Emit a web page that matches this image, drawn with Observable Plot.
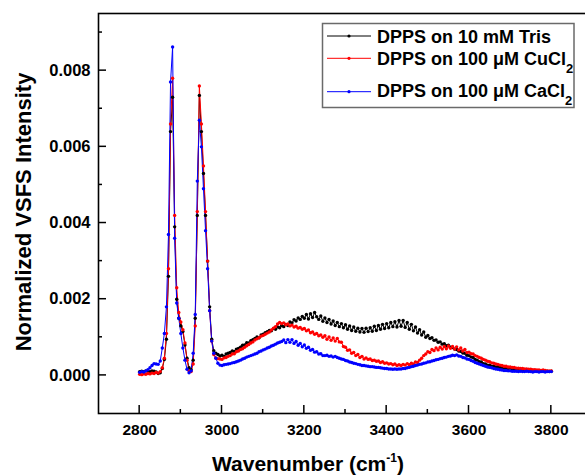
<!DOCTYPE html>
<html><head><meta charset="utf-8">
<script src="https://cdn.jsdelivr.net/npm/d3@7"></script>
<script src="https://cdn.jsdelivr.net/npm/@observablehq/plot@0.6"></script>
<style>
html,body{margin:0;padding:0;background:#fff;overflow:hidden;}
#chart{width:585px;height:475px;overflow:hidden;position:relative;}
#chart svg{max-width:none !important;width:592px !important;height:475px !important;display:block;}
#chart svg text{font-weight:bold;}
</style></head><body><div id="chart"></div>
<script>
// Wavenumber grid (cm^-1)
const wavenumber = [
2800,2805,2810,2815,2820,2825,2830,2835,2840,2845,
2850,2855,2860,2865,2870,2875,2880,2885,2890,2895,
2900,2905,2910,2915,2920,2925,2930,2935,2940,2945,
2950,2955,2960,2965,2970,2975,2980,2985,2990,2995,
3000,3005,3010,3015,3020,3025,3030,3035,3040,3045,
3050,3055,3060,3065,3070,3075,3080,3085,3090,3095,
3100,3105,3110,3115,3120,3125,3130,3135,3140,3145,
3150,3155,3160,3165,3170,3175,3180,3185,3190,3195,
3200,3205,3210,3215,3220,3225,3230,3235,3240,3245,
3250,3255,3260,3265,3270,3275,3280,3285,3290,3295,
3300,3305,3310,3315,3320,3325,3330,3335,3340,3345,
3350,3355,3360,3365,3370,3375,3380,3385,3390,3395,
3400,3405,3410,3415,3420,3425,3430,3435,3440,3445,
3450,3455,3460,3465,3470,3475,3480,3485,3490,3495,
3500,3505,3510,3515,3520,3525,3530,3535,3540,3545,
3550,3555,3560,3565,3570,3575,3580,3585,3590,3595,
3600,3605,3610,3615,3620,3625,3630,3635,3640,3645,
3650,3655,3660,3665,3670,3675,3680,3685,3690,3695,
3700,3705,3710,3715,3720,3725,3730,3735,3740,3745,
3750,3755,3760,3765,3770,3775,3780,3785,3790,3795,
3800];

// DPPS on 10 mM Tris (black)
const trisValues = [
0.00010,0.00011,0.00010,0.00012,0.00011,0.00010,0.00012,0.00011,0.00009,0.00005,
0.00007,0.00018,0.00042,0.00095,0.00260,0.00640,0.00730,0.00390,0.00200,0.00150,
0.00130,0.00115,0.00080,0.00045,0.00020,0.00015,0.00040,0.00150,0.00420,0.00735,
0.00640,0.00530,0.00420,0.00300,0.00180,0.00095,0.00065,0.00058,0.00055,0.00051,
0.00053,0.00050,0.00056,0.00058,0.00060,0.00064,0.00063,0.00069,0.00071,0.00074,
0.00079,0.00080,0.00086,0.00085,0.00091,0.00094,0.00097,0.00101,0.00099,0.00106,
0.00108,0.00112,0.00115,0.00118,0.00117,0.00123,0.00121,0.00127,0.00125,0.00131,
0.00128,0.00134,0.00131,0.00140,0.00138,0.00146,0.00143,0.00151,0.00147,0.00155,
0.00150,0.00160,0.00148,0.00162,0.00152,0.00165,0.00154,0.00147,0.00156,0.00142,
0.00151,0.00139,0.00147,0.00135,0.00143,0.00131,0.00139,0.00128,0.00136,0.00125,
0.00133,0.00121,0.00130,0.00118,0.00127,0.00116,0.00124,0.00114,0.00123,0.00113,
0.00124,0.00115,0.00125,0.00116,0.00129,0.00118,0.00131,0.00121,0.00134,0.00123,
0.00136,0.00125,0.00139,0.00128,0.00141,0.00127,0.00144,0.00129,0.00144,0.00126,
0.00139,0.00121,0.00134,0.00117,0.00127,0.00111,0.00120,0.00106,0.00114,0.00100,
0.00105,0.00097,0.00099,0.00092,0.00093,0.00087,0.00088,0.00082,0.00083,0.00078,
0.00079,0.00074,0.00073,0.00069,0.00068,0.00064,0.00063,0.00059,0.00058,0.00053,
0.00052,0.00048,0.00047,0.00042,0.00040,0.00036,0.00035,0.00031,0.00030,0.00027,
0.00027,0.00024,0.00024,0.00022,0.00023,0.00021,0.00021,0.00019,0.00020,0.00018,
0.00019,0.00017,0.00017,0.00016,0.00017,0.00015,0.00015,0.00014,0.00015,0.00013,
0.00013,0.00012,0.00013,0.00012,0.00012,0.00011,0.00012,0.00011,0.00011,0.00010,
0.00011];

// DPPS on 100 uM CuCl2 (red)
const cuValues = [
0.00003,0.00002,0.00004,0.00003,0.00005,0.00004,0.00006,0.00005,0.00008,0.00006,
0.00010,0.00020,0.00045,0.00110,0.00280,0.00660,0.00780,0.00420,0.00230,0.00165,
0.00140,0.00120,0.00085,0.00040,0.00012,0.00010,0.00030,0.00130,0.00430,0.00760,
0.00660,0.00550,0.00430,0.00300,0.00170,0.00090,0.00055,0.00046,0.00044,0.00043,
0.00042,0.00046,0.00047,0.00050,0.00052,0.00056,0.00057,0.00062,0.00064,0.00068,
0.00070,0.00074,0.00078,0.00081,0.00085,0.00088,0.00093,0.00096,0.00099,0.00103,
0.00105,0.00108,0.00111,0.00114,0.00119,0.00124,0.00128,0.00135,0.00139,0.00136,
0.00138,0.00133,0.00135,0.00130,0.00132,0.00127,0.00129,0.00124,0.00126,0.00121,
0.00123,0.00117,0.00119,0.00112,0.00114,0.00108,0.00110,0.00104,0.00106,0.00100,
0.00104,0.00095,0.00101,0.00092,0.00098,0.00090,0.00097,0.00088,0.00087,0.00076,
0.00074,0.00066,0.00067,0.00058,0.00060,0.00052,0.00055,0.00047,0.00050,0.00043,
0.00046,0.00042,0.00043,0.00039,0.00040,0.00037,0.00038,0.00034,0.00036,0.00032,
0.00033,0.00030,0.00031,0.00028,0.00030,0.00026,0.00028,0.00026,0.00029,0.00027,
0.00031,0.00028,0.00032,0.00030,0.00035,0.00034,0.00040,0.00045,0.00052,0.00056,
0.00062,0.00060,0.00068,0.00065,0.00072,0.00067,0.00074,0.00069,0.00076,0.00070,
0.00077,0.00071,0.00076,0.00069,0.00075,0.00067,0.00072,0.00064,0.00068,0.00060,
0.00061,0.00057,0.00056,0.00052,0.00050,0.00047,0.00045,0.00042,0.00040,0.00037,
0.00036,0.00033,0.00032,0.00030,0.00029,0.00027,0.00026,0.00024,0.00024,0.00022,
0.00022,0.00021,0.00021,0.00019,0.00019,0.00018,0.00018,0.00017,0.00017,0.00016,
0.00016,0.00015,0.00015,0.00014,0.00014,0.00013,0.00014,0.00013,0.00012,0.00012,
0.00012];

// DPPS on 100 uM CaCl2 (blue)
const caValues = [
0.00008,0.00010,0.00009,0.00012,0.00015,0.00020,0.00026,0.00031,0.00030,0.00029,
0.00038,0.00072,0.00110,0.00180,0.00370,0.00770,0.00862,0.00360,0.00190,0.00150,
0.00110,0.00072,0.00040,0.00016,0.00007,0.00012,0.00058,0.00160,0.00510,0.00670,
0.00600,0.00490,0.00380,0.00280,0.00170,0.00090,0.00058,0.00045,0.00032,0.00027,
0.00026,0.00028,0.00029,0.00030,0.00031,0.00033,0.00034,0.00036,0.00038,0.00040,
0.00043,0.00045,0.00048,0.00050,0.00052,0.00054,0.00056,0.00058,0.00062,0.00064,
0.00067,0.00069,0.00072,0.00074,0.00077,0.00079,0.00082,0.00085,0.00087,0.00089,
0.00093,0.00086,0.00094,0.00087,0.00094,0.00084,0.00089,0.00079,0.00084,0.00075,
0.00080,0.00071,0.00074,0.00066,0.00068,0.00061,0.00062,0.00056,0.00057,0.00052,
0.00052,0.00053,0.00050,0.00051,0.00048,0.00050,0.00047,0.00045,0.00043,0.00042,
0.00039,0.00038,0.00035,0.00034,0.00032,0.00031,0.00029,0.00028,0.00026,0.00026,
0.00025,0.00024,0.00023,0.00023,0.00022,0.00021,0.00021,0.00020,0.00019,0.00018,
0.00018,0.00017,0.00017,0.00016,0.00017,0.00016,0.00017,0.00017,0.00018,0.00018,
0.00020,0.00021,0.00023,0.00024,0.00026,0.00027,0.00029,0.00030,0.00032,0.00033,
0.00035,0.00036,0.00038,0.00039,0.00041,0.00042,0.00044,0.00045,0.00047,0.00048,
0.00050,0.00051,0.00053,0.00052,0.00054,0.00051,0.00050,0.00047,0.00046,0.00043,
0.00042,0.00039,0.00037,0.00034,0.00032,0.00030,0.00028,0.00026,0.00024,0.00022,
0.00021,0.00020,0.00018,0.00017,0.00016,0.00015,0.00014,0.00013,0.00013,0.00012,
0.00012,0.00011,0.00011,0.00011,0.00010,0.00011,0.00010,0.00010,0.00011,0.00010,
0.00010,0.00009,0.00010,0.00010,0.00009,0.00010,0.00010,0.00009,0.00010,0.00010,
0.00010];

const seriesLabels = ["DPPS on 10 mM Tris", "DPPS on 100 \u03BCM CuCl", "DPPS on 100 \u03BCM CaCl"];
const seriesSubscripts = ["", "2", "2"];
const seriesColors = ["#000000", "#ff0000", "#0000ff"];
const seriesValues = [trisValues, cuValues, caValues];

const xMajorTicks = [2800, 3000, 3200, 3400, 3600, 3800];
const xMinorTicks = [2900, 3100, 3300, 3500, 3700];
const yMajorTicks = [0, 0.002, 0.004, 0.006, 0.008];
const yMinorTicks = [0.001, 0.003, 0.005, 0.007, 0.009];
const xDomain = [2700, 3900];
const yDomain = [-0.001, 0.0095];

const rows = [];
seriesValues.forEach((vals, s) => {
  vals.forEach((v, i) => rows.push({series: s, wn: wavenumber[i], v}));
});

const FONT = "'Liberation Sans', Arial, Helvetica, sans-serif";
const lineMarks = seriesColors.map((c, s) =>
  Plot.line(rows.filter(d => d.series === s), {x: "wn", y: "v", stroke: c, strokeWidth: 1}));
const dotMarks = seriesColors.map((c, s) =>
  Plot.dot(rows.filter(d => d.series === s), {x: "wn", y: "v", fill: c, r: 1.7, stroke: "none"}));

const plot = Plot.plot({
  width: 592, height: 475,
  marginLeft: 98, marginRight: 0, marginTop: 13, marginBottom: 62,
  style: {fontFamily: FONT, background: "#fff", color: "#000", overflow: "hidden"},
  x: {domain: xDomain},
  y: {domain: yDomain},
  marks: [
    ...lineMarks,
    ...dotMarks,
    Plot.axisX(xMajorTicks, {tickSize: 0, tickPadding: 10, tickFormat: d => String(d), fontSize: 15.5, label: null}),
    Plot.axisY(yMajorTicks, {tickSize: 0, tickPadding: 8, tickFormat: d3.format(".3f"), fontSize: 16.5, label: null}),
    Plot.frame({stroke: "#000", strokeWidth: 1.6})
  ]
});

const sx = plot.scale("x"), sy = plot.scale("y");
const svg = d3.select(plot);
const ticks = svg.append("g").attr("stroke", "#000").attr("stroke-width", 1.5);
const xAxisY = sy.apply(yDomain[0]);
const yAxisX = sx.apply(xDomain[0]);
xMajorTicks.forEach(t => ticks.append("line").attr("x1", sx.apply(t)).attr("x2", sx.apply(t)).attr("y1", xAxisY).attr("y2", xAxisY - 8));
xMinorTicks.forEach(t => ticks.append("line").attr("x1", sx.apply(t)).attr("x2", sx.apply(t)).attr("y1", xAxisY).attr("y2", xAxisY - 4));
yMajorTicks.forEach(t => ticks.append("line").attr("y1", sy.apply(t)).attr("y2", sy.apply(t)).attr("x1", yAxisX).attr("x2", yAxisX + 8));
yMinorTicks.forEach(t => ticks.append("line").attr("y1", sy.apply(t)).attr("y2", sy.apply(t)).attr("x1", yAxisX).attr("x2", yAxisX + 4));

// Axis titles
const xt = svg.append("text").attr("x", 308).attr("y", 471).attr("text-anchor", "middle")
  .attr("font-size", 21).attr("font-weight", "bold").attr("font-family", FONT).attr("fill", "#000");
xt.append("tspan").text("Wavenumber (cm");
xt.append("tspan").attr("font-size", 12).attr("dy", -9).text("-1");
xt.append("tspan").attr("dy", 9).text(")");

svg.append("text").attr("transform", "translate(31,212) rotate(-90)").attr("text-anchor", "middle")
  .attr("font-size", 22).attr("font-weight", "bold").attr("font-family", FONT).attr("fill", "#000")
  .text("Normalized VSFS Intensity");

// Legend
const lg = svg.append("g").attr("font-family", FONT).attr("font-weight", "bold").attr("text-anchor", "start");
lg.append("rect").attr("x", 322.5).attr("y", 23.5).attr("width", 251.5).attr("height", 84)
  .attr("fill", "#fff").attr("stroke", "#6a6a6a").attr("stroke-width", 1.5);
const legendLineY = [36, 58.3, 91.7];
const legendBaseY = [42.5, 65, 96.5];
seriesLabels.forEach((lab, i) => {
  lg.append("line").attr("x1", 327).attr("x2", 371).attr("y1", legendLineY[i]).attr("y2", legendLineY[i])
    .attr("stroke", seriesColors[i]).attr("stroke-width", 1);
  lg.append("circle").attr("cx", 349).attr("cy", legendLineY[i]).attr("r", 1.6).attr("fill", seriesColors[i]);
  const t = lg.append("text").attr("x", 377).attr("y", legendBaseY[i]).attr("font-size", 18).attr("fill", "#000").attr("text-anchor", "start");
  t.append("tspan").text(lab);
  if (seriesSubscripts[i]) t.append("tspan").attr("font-size", 13).attr("dy", 8).text(seriesSubscripts[i]);
});

document.getElementById("chart").appendChild(plot);
</script>
</body></html>
